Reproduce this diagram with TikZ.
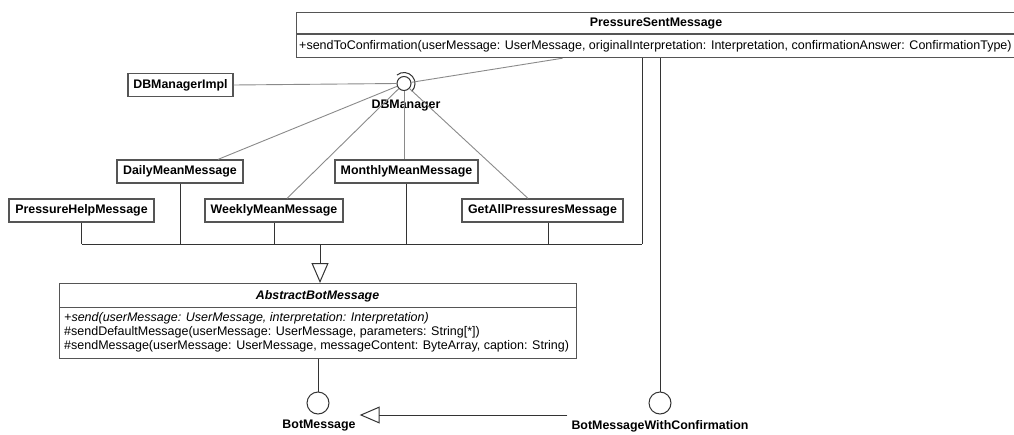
\documentclass[tikz,border=0pt]{standalone}
\usepackage{fontspec}
\setmainfont{Liberation Sans}
\usetikzlibrary{arrows.meta,calc}
\definecolor{boxc}{HTML}{555555}
\definecolor{linec}{HTML}{8A8A8A}
\definecolor{genc}{HTML}{333333}
\begin{document}
\begin{tikzpicture}[x=1pt,y=-1pt,
  cls/.style={draw=boxc, line width=1.2pt, fill=white, inner sep=0pt,
    font=\bfseries\fontsize{12.4}{14}\selectfont, minimum height=23pt},
  frame/.style={draw=boxc, line width=1.2pt, fill=white, inner sep=0pt, anchor=north west},
  title/.style={font=\bfseries\fontsize{12.4}{14}\selectfont, inner sep=0pt},
  oper/.style={font=\fontsize{12.5}{14}\selectfont, inner sep=0pt, anchor=west},
  lbl/.style={font=\bfseries\fontsize{12.4}{14}\selectfont, inner sep=0pt},
  dep/.style={draw=linec, line width=0.9pt},
  gen/.style={draw=genc, line width=1pt},
  tri/.style={-{Triangle[open, length=20pt, width=17pt, line width=1pt]}},
  iface/.style={draw=genc, line width=1pt, circle, fill=white, inner sep=0pt, minimum size=22pt}
]
\useasboundingbox (0,0) rectangle (1014,434);

% PressureSentMessage class
\node[frame, minimum width=722pt, minimum height=45pt] (psm) at (296,12) {};
\draw[draw=boxc, line width=1.2pt] (296,34) -- (1018,34);
\node[title] (psmt) at (656,23) {PressureSentMessage};
\node[oper] (psmo) at (299,46) {+sendToConfirmation(userMessage: UserMessage, originalInterpretation: Interpretation, confirmationAnswer: ConfirmationType)};

% DBManager interface (ball and socket)
\node[cls, minimum width=105pt] (impl) at (180.5,85) {DBManagerImpl};
\node[draw=genc, line width=1pt, circle, fill=white, inner sep=0pt, minimum size=14pt] (dbm) at (404,83.5) {};
\draw[genc, line width=1pt] ([shift={(130:11pt)}]dbm.center) arc[start angle=130, end angle=-45, radius=11pt];
\node[lbl] (dbml) at (406,106) {DBManager};

% message classes
\node[cls, minimum width=126pt] (daily) at (180,171.5) {DailyMeanMessage};
\node[cls, minimum width=143pt] (monthly) at (406.5,171.5) {MonthlyMeanMessage};
\node[cls, minimum width=145pt] (help) at (81.5,210.5) {PressureHelpMessage};
\node[cls, minimum width=138pt] (weekly) at (274,210.5) {WeeklyMeanMessage};
\node[cls, minimum width=161pt] (getall) at (542.5,210.5) {GetAllPressuresMessage};

% AbstractBotMessage class
\node[frame, minimum width=517pt, minimum height=75pt] (abm) at (59,283) {};
\draw[draw=boxc, line width=1.2pt] (59,307.5) -- (576,307.5);
\node[title] (abmt) at (317.5,296) {\itshape AbstractBotMessage};
\node[oper] (op1) at (64,318.5) {\itshape +send(userMessage: UserMessage, interpretation: Interpretation)};
\node[oper] (op2) at (64,332.5) {\#sendDefaultMessage(userMessage: UserMessage, parameters: String[*])};
\node[oper] (op3) at (64,346.5) {\#sendMessage(userMessage: UserMessage, messageContent: ByteArray, caption: String)};

% interfaces
\node[iface] (bm) at (318,403) {};
\node[lbl] (bml) at (319,426) {BotMessage};
\node[iface] (bmwc) at (660,403) {};
\node[lbl] (bmwcl) at (660,426) {BotMessageWithConfirmation};

% DBManager usages
\draw[dep] (impl.east) -- (dbm.west);
\draw[dep] ([xshift=-95pt]psm.south) -- (dbm);
\draw[dep] (dbm) -- ([xshift=38pt]daily.north);
\draw[dep] (dbm) -- ([xshift=13pt]weekly.north);
\draw[dep] (dbm.south) -- (dbm.south |- monthly.north);
\draw[dep] (dbm) -- ([xshift=-14.5pt]getall.north);

% inheritance bus to AbstractBotMessage
\coordinate (busL) at (81.5,244);
\coordinate (busR) at (642,244);
\coordinate (busM) at (320,244);
\draw[gen] (busL) -- (busR);
\draw[gen] (help.south) -- (help.south |- busL);
\draw[gen] (daily.south) -- (daily.south |- busL);
\draw[gen] (weekly.south) -- (weekly.south |- busL);
\draw[gen] (monthly.south) -- (monthly.south |- busL);
\draw[gen] ([xshift=5.5pt]getall.south) -- ([xshift=5.5pt]getall.south |- busL);
\draw[gen] (busR |- psm.south) -- (busR);
\draw[gen, tri] (busM) -- (busM |- abm.north);

% interface realisations
\draw[gen] (abm.south -| bm) -- (bm.north);
\draw[gen] (psm.south -| bmwc) -- (bmwc.north);
\draw[gen, tri, shorten <=4pt, shorten >=4pt] ([yshift=11pt]bmwcl.west) -- ([yshift=11pt]bml.east);
\end{tikzpicture}
\end{document}
